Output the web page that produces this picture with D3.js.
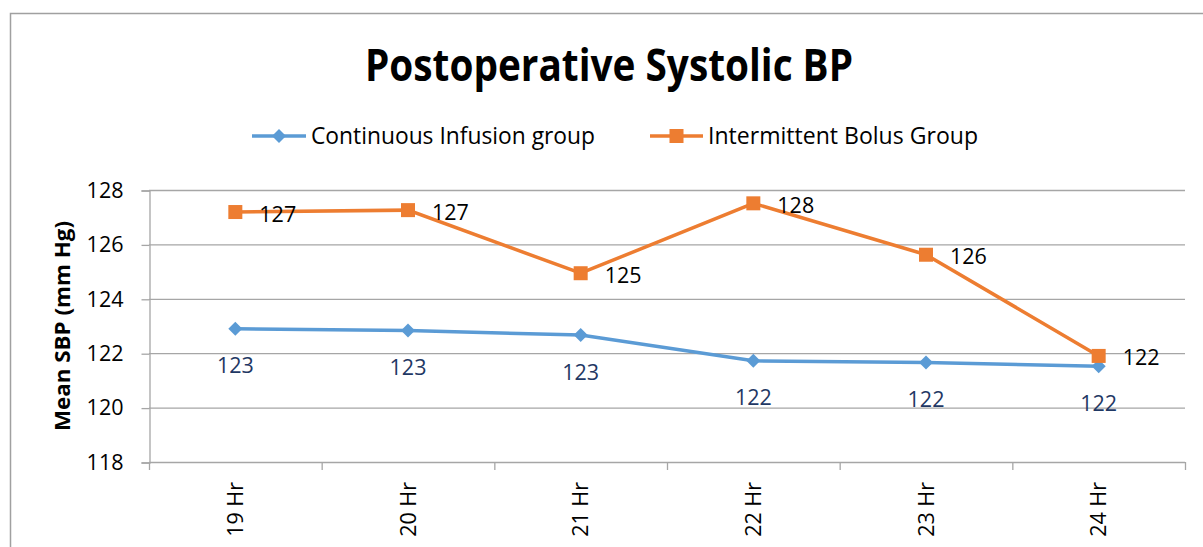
<!DOCTYPE html>
<html>
<head>
<meta charset="utf-8">
<script src="https://cdn.jsdelivr.net/npm/d3@7"></script>
<style>
body { margin: 0; background: #fff; }
text { font-family: "Open Sans", sans-serif; }
</style>
</head>
<body>
<svg></svg>
<script>
var hours = ["19 Hr", "20 Hr", "21 Hr", "22 Hr", "23 Hr", "24 Hr"];
var continuous = [122.9, 122.83, 122.67, 121.72, 121.66, 121.52];
var bolus = [127.19, 127.26, 124.94, 127.51, 125.62, 121.9];
var yTicks = [118, 120, 122, 124, 126, 128];
var seriesNames = ["Continuous Infusion group", "Intermittent Bolus Group"];

var viewWidth = 1203;
var viewHeight = 547;
var plot = {left: 149, right: 1185, top: 190, bottom: 462};

var blue = "#5B9BD5";
var orange = "#ED7D31";
var gridColor = "#A6A6A6";

var svg = d3.select("svg")
    .attr("width", viewWidth)
    .attr("height", viewHeight);

// chart frame (runs off the right and bottom edges)
svg.append("rect")
    .attr("x", 10.5)
    .attr("y", 13.5)
    .attr("width", 1400)
    .attr("height", 800)
    .attr("fill", "none")
    .attr("stroke", "#A0A0A0")
    .attr("stroke-width", 1.5);

svg.append("text")
    .attr("x", 609)
    .attr("y", 81)
    .attr("text-anchor", "middle")
    .attr("font-size", 44)
    .attr("font-weight", "bold")
    .attr("textLength", 488)
    .attr("lengthAdjust", "spacingAndGlyphs")
    .text("Postoperative Systolic BP");

var xScale = d3.scaleBand()
    .domain(hours)
    .range([plot.left, plot.right]);

var yScale = d3.scaleLinear()
    .domain([118, 128])
    .range([plot.bottom, plot.top]);

function cx(d, i) {
    return xScale(hours[i]) + xScale.bandwidth() / 2;
}

// gridlines
svg.append("g")
    .selectAll("line")
    .data(yTicks.slice(1))
    .enter()
    .append("line")
    .attr("x1", plot.left)
    .attr("x2", plot.right)
    .attr("y1", function (d) { return yScale(d) + 0.5; })
    .attr("y2", function (d) { return yScale(d) + 0.5; })
    .attr("stroke", gridColor)
    .attr("stroke-width", 1.3);

// y axis
var yAxis = d3.axisLeft(yScale)
    .tickValues(yTicks)
    .tickSize(8)
    .tickPadding(18)
    .tickFormat(d3.format("d"));

var yg = svg.append("g")
    .attr("transform", "translate(" + (plot.left + 0.5) + ",0.5)")
    .call(yAxis);
yg.select(".domain").attr("stroke", gridColor).attr("stroke-width", 1.3);
yg.selectAll(".tick line").attr("stroke", gridColor).attr("stroke-width", 1.3);
yg.selectAll(".tick text")
    .attr("font-size", 21.5)
    .attr("fill", "#000")
    .style("font-family", "'Open Sans', sans-serif");

// x axis
svg.append("line")
    .attr("x1", plot.left)
    .attr("x2", plot.right)
    .attr("y1", plot.bottom + 0.5)
    .attr("y2", plot.bottom + 0.5)
    .attr("stroke", gridColor)
    .attr("stroke-width", 1.3);

var bounds = hours.map(function (h) { return xScale(h); }).concat([plot.right]);
svg.append("g")
    .selectAll("line")
    .data(bounds)
    .enter()
    .append("line")
    .attr("x1", function (d) { return d + 0.5; })
    .attr("x2", function (d) { return d + 0.5; })
    .attr("y1", plot.bottom)
    .attr("y2", plot.bottom + 8)
    .attr("stroke", gridColor)
    .attr("stroke-width", 1.3);

svg.append("g")
    .selectAll("text")
    .data(hours)
    .enter()
    .append("text")
    .attr("transform", function (d, i) {
        return "translate(" + cx(d, i) + "," + (plot.bottom + 20) + ") rotate(-90)";
    })
    .attr("dy", "0.35em")
    .attr("text-anchor", "end")
    .attr("font-size", 21.5)
    .text(function (d) { return d; });

svg.append("text")
    .attr("transform", "translate(62," + ((plot.top + plot.bottom) / 2) + ") rotate(-90)")
    .attr("dy", "0.35em")
    .attr("text-anchor", "middle")
    .attr("font-size", 22)
    .attr("font-weight", "bold")
    .attr("textLength", 210)
    .attr("lengthAdjust", "spacingAndGlyphs")
    .text("Mean SBP (mm Hg)");

var line = d3.line()
    .x(cx)
    .y(function (d) { return yScale(d); });

function diamond(sel, size) {
    return sel.attr("d", "M0," + (-size) + "L" + size + ",0L0," + size + "L" + (-size) + ",0Z");
}

// continuous infusion series
svg.append("path")
    .datum(continuous)
    .attr("d", line)
    .attr("fill", "none")
    .attr("stroke", blue)
    .attr("stroke-width", 3.5);

svg.append("g")
    .selectAll("path")
    .data(continuous)
    .enter()
    .append("path")
    .call(diamond, 7)
    .attr("transform", function (d, i) { return "translate(" + cx(d, i) + "," + yScale(d) + ")"; })
    .attr("fill", blue);

svg.append("g")
    .selectAll("text")
    .data(continuous)
    .enter()
    .append("text")
    .attr("x", cx)
    .attr("y", function (d) { return yScale(d) + 37; })
    .attr("dy", "0.35em")
    .attr("text-anchor", "middle")
    .attr("font-size", 21.5)
    .attr("fill", "#1F3864")
    .text(function (d) { return Math.round(d); });

// intermittent bolus series
svg.append("path")
    .datum(bolus)
    .attr("d", line)
    .attr("fill", "none")
    .attr("stroke", orange)
    .attr("stroke-width", 3.5);

svg.append("g")
    .selectAll("rect")
    .data(bolus)
    .enter()
    .append("rect")
    .attr("x", function (d, i) { return cx(d, i) - 7; })
    .attr("y", function (d) { return yScale(d) - 7; })
    .attr("width", 14)
    .attr("height", 14)
    .attr("fill", orange);

svg.append("g")
    .selectAll("text")
    .data(bolus)
    .enter()
    .append("text")
    .attr("x", function (d, i) { return cx(d, i) + 24; })
    .attr("y", function (d) { return yScale(d) + 2; })
    .attr("dy", "0.35em")
    .attr("font-size", 21.5)
    .attr("fill", "#000")
    .text(function (d) { return Math.round(d); });

// legend
var legendItems = [
    {name: seriesNames[0], color: blue, x1: 252, x2: 306, textX: 311, textLen: 284, marker: "diamond"},
    {name: seriesNames[1], color: orange, x1: 650, x2: 703, textX: 708, textLen: 270, marker: "square"}
];
var legendY = 136;

var legend = svg.append("g")
    .selectAll("g")
    .data(legendItems)
    .enter()
    .append("g");

legend.append("line")
    .attr("x1", function (d) { return d.x1; })
    .attr("x2", function (d) { return d.x2; })
    .attr("y1", legendY)
    .attr("y2", legendY)
    .attr("stroke", function (d) { return d.color; })
    .attr("stroke-width", 3.5);

legend.filter(function (d) { return d.marker === "diamond"; })
    .append("path")
    .call(diamond, 7)
    .attr("transform", function (d) { return "translate(" + (d.x1 + d.x2) / 2 + "," + legendY + ")"; })
    .attr("fill", function (d) { return d.color; });

legend.filter(function (d) { return d.marker === "square"; })
    .append("rect")
    .attr("x", function (d) { return (d.x1 + d.x2) / 2 - 7; })
    .attr("y", legendY - 7)
    .attr("width", 14)
    .attr("height", 14)
    .attr("fill", function (d) { return d.color; });

legend.append("text")
    .attr("x", function (d) { return d.textX; })
    .attr("y", legendY)
    .attr("dy", "0.35em")
    .attr("font-size", 23)
    .attr("textLength", function (d) { return d.textLen; })
    .attr("lengthAdjust", "spacingAndGlyphs")
    .text(function (d) { return d.name; });
</script>
</body>
</html>
